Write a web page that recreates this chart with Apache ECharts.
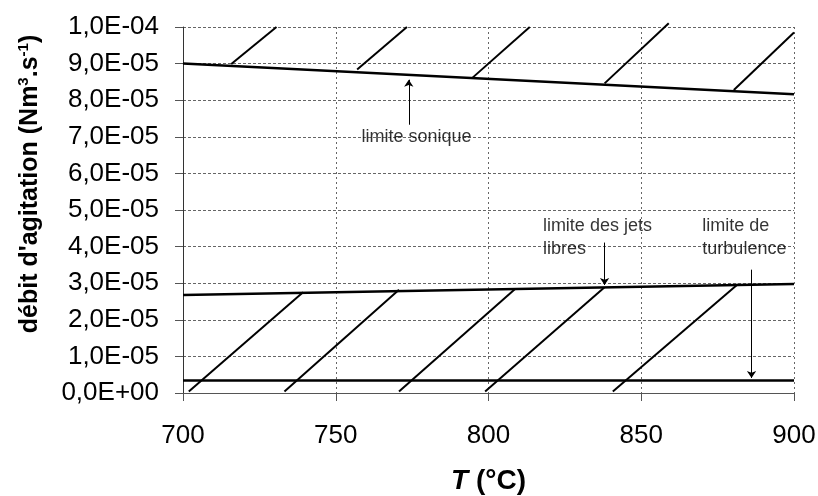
<!DOCTYPE html>
<html>
<head>
<meta charset="utf-8">
<script src="https://cdn.jsdelivr.net/npm/echarts@6/dist/echarts.min.js"></script>
<style>
  html, body { margin: 0; padding: 0; background: #fff; }
  #chart { width: 818px; height: 496px; }
</style>
</head>
<body>
<div id="chart"></div>
<script>
// Temperature range (°C)
const temps = [700, 900];

// Limit curves (Nm3/s)
const sonicLimit = [9.0e-5, 8.16e-5];
const jetsLimit = [2.68e-5, 2.98e-5];
const turbulenceLimit = [3.4e-6, 3.4e-6];

// Hatch segments [x1, y1, x2, y2]
const upperHatch = [
    [715.8, 8.99e-5, 730.6, 1.0e-4],
    [757.0, 8.84e-5, 773.3, 1.0e-4],
    [794.7, 8.61e-5, 813.5, 1.0e-4],
    [838.0, 8.46e-5, 859.0, 1.01e-4],
    [880.3, 8.28e-5, 900.0, 9.85e-5]
];
const lowerHatch = [
    [701.9, 4e-7, 739.3, 2.75e-5],
    [733.2, 4e-7, 770.7, 2.82e-5],
    [770.7, 4e-7, 808.7, 2.84e-5],
    [798.9, 4e-7, 837.9, 2.88e-5],
    [840.7, 4e-7, 881.6, 2.97e-5]
];

// Annotation arrows [x, yStart, yEnd]
const arrows = [
    [773.9, 7.33e-5, 8.56e-5],
    [838.0, 4.11e-5, 2.95e-5],
    [886.1, 3.37e-5, 0.41e-5]
];

// Annotation texts [x, y, text]
const notes = [
    [758.4, 7.0e-5, 'limite sonique'],
    [817.8, 4.235e-5, 'limite des jets\nlibres'],
    [870.0, 4.235e-5, 'limite de\nturbulence']
];

function sciLabel(v) {
    const parts = v.toExponential(1).split('e');
    const mant = parts[0].replace('.', ',');
    const exp = parseInt(parts[1], 10);
    const sign = exp < 0 ? '-' : '+';
    const digits = String(Math.abs(exp)).padStart(2, '0');
    return mant + 'E' + sign + digits;
}

const chart = echarts.init(document.getElementById('chart'));

const blackLine = { color: '#000', width: 2.5 };

function limitSeries(values) {
    return {
        type: 'line',
        data: temps.map((t, i) => [t, values[i]]),
        symbol: 'none',
        lineStyle: blackLine,
        silent: true,
        z: 3
    };
}

function hatchSeries(segs) {
    return {
        type: 'lines',
        coordinateSystem: 'cartesian2d',
        clip: false,
        data: segs.map(s => ({ coords: [[s[0], s[1]], [s[2], s[3]]] })),
        lineStyle: { color: '#000', width: 2, opacity: 1 },
        z: 3
    };
}

const option = {
    backgroundColor: '#fff',
    animation: false,
    textStyle: { fontFamily: '"Liberation Sans", Arial, sans-serif' },
    grid: {
        left: 183,
        right: 24,
        top: 27,
        bottom: 103,
        containLabel: false,
        outerBoundsMode: 'none'
    },
    xAxis: {
        type: 'value',
        min: 700,
        max: 900,
        interval: 50,
        name: '{t|T}{n| (°C)}',
        nameLocation: 'middle',
        nameGap: 74,
        nameMoveOverlap: false,
        nameTextStyle: {
            rich: {
                t: { fontSize: 28, fontWeight: 'bold', fontStyle: 'italic', color: '#000' },
                n: { fontSize: 28, fontWeight: 'bold', color: '#000' }
            }
        },
        axisLine: { lineStyle: { color: '#555', width: 1 } },
        axisTick: { show: true, inside: false, length: 8, lineStyle: { color: '#555' } },
        axisLabel: { color: '#000', fontSize: 26, margin: 30 },
        splitLine: { show: true, lineStyle: { color: '#666', type: [2, 3], width: 1 } }
    },
    yAxis: {
        type: 'value',
        min: 0,
        max: 1e-4,
        interval: 1e-5,
        name: '{a|débit d\'agitation (Nm}{s|3}{a|.s}{s|-1}{a|)}',
        nameLocation: 'middle',
        nameGap: 138,
        nameMoveOverlap: false,
        nameTextStyle: {
            padding: [0, 0, 0, 52],
            rich: {
                a: { fontSize: 25, fontWeight: 'bold', color: '#000', lineHeight: 29 },
                s: { fontSize: 15, fontWeight: 'bold', color: '#000', verticalAlign: 'top', lineHeight: 29 }
            }
        },
        axisLine: { show: true, lineStyle: { color: '#333', width: 1 } },
        axisTick: { show: true, inside: false, length: 8, lineStyle: { color: '#555' } },
        axisLabel: { color: '#000', fontSize: 26, margin: 24, formatter: sciLabel },
        splitLine: { show: true, lineStyle: { color: '#666', type: [3, 2], width: 1 } }
    },
    series: [
        hatchSeries(upperHatch),
        hatchSeries(lowerHatch),
        limitSeries(sonicLimit),
        limitSeries(jetsLimit),
        limitSeries(turbulenceLimit),
        {
            type: 'lines',
            coordinateSystem: 'cartesian2d',
            data: arrows.map(a => ({ coords: [[a[0], a[1]], [a[0], a[2]]] })),
            symbol: ['none', 'arrow'],
            symbolSize: 7,
            lineStyle: { color: '#000', width: 1, opacity: 1 },
            z: 4
        },
        {
            type: 'scatter',
            data: notes.map(n => ({ value: [n[0], n[1]], name: n[2] })),
            symbolSize: 0,
            silent: true,
            label: {
                show: true,
                position: 'right',
                distance: 0,
                formatter: '{b}',
                color: '#000',
                fontSize: 18,
                lineHeight: 23
            },
            z: 5
        }
    ]
};

chart.setOption(option);
</script>
</body>
</html>
